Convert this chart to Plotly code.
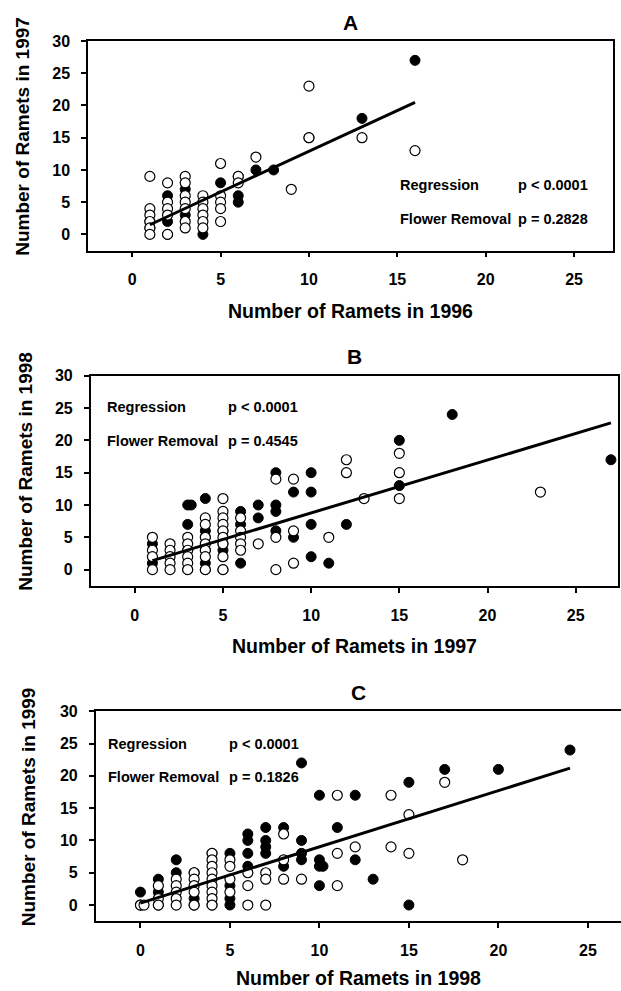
import plotly.graph_objects as go

# ---------------- data ----------------
# Panel A: ramets 1996 (x) vs 1997 (y)
a_filled_x = [1, 1, 2, 2, 2, 3, 3, 4, 5, 6, 6, 6, 7, 8, 10, 13, 16]
a_filled_y = [2, 1, 6, 2, 0, 7, 3, 0, 8, 9, 6, 5, 10, 10, 15, 18, 27]
a_open_x = [1, 1, 1, 1, 1, 1, 2, 2, 2, 2, 2, 3, 3, 3, 3, 3, 3, 3, 4, 4, 4, 4, 4, 4,
            5, 5, 5, 5, 5, 6, 6, 7, 9, 10, 10, 13, 16]
a_open_y = [9, 4, 3, 2, 1, 0, 8, 5, 4, 3, 0, 9, 8, 6, 5, 4, 2, 1, 6, 5, 4, 3, 2, 1,
            11, 6, 5, 4, 2, 9, 8, 12, 7, 23, 15, 15, 13]
a_fit_x = [1, 16]
a_fit_y = [1.5, 20.5]

# Panel B: ramets 1997 (x) vs 1998 (y)
b_filled_x = [1, 1, 3, 3.2, 3, 3, 3, 4, 4, 4, 4, 4, 4, 5, 5, 5, 5, 6, 6, 6, 7, 7,
              8, 8, 8, 8, 9, 9, 10, 10, 10, 10, 11, 12, 15, 15, 18, 27]
b_filled_y = [4, 1, 10, 10, 7, 3, 0, 11, 6, 5, 3, 1, 0, 6, 4, 3, 0, 9, 7, 1, 10, 8,
              15, 10, 9, 6, 12, 5, 15, 12, 7, 2, 1, 7, 20, 13, 24, 17]
b_open_x = [1, 1, 1, 1, 2, 2, 2, 2, 2, 3, 3, 3, 3, 3, 3, 4, 4, 4, 4, 4, 4, 4,
            5, 5, 5, 5, 5, 5, 5, 5, 5, 6, 6, 6, 6, 6, 7, 8, 8, 8, 9, 9, 9,
            11, 12, 12, 13, 15, 15, 15, 23]
b_open_y = [5, 3, 2, 0, 4, 3, 2, 1, 0, 5, 4, 3, 2, 1, 0, 8, 7, 5, 4, 3, 2, 0,
            11, 9, 8, 7, 6, 5, 4, 2, 0, 8, 6, 5, 4, 3, 4, 14, 5, 0, 14, 6, 1,
            5, 17, 15, 11, 18, 15, 11, 12]
b_fit_x = [1, 27]
b_fit_y = [1.4, 22.7]

# Panel C: ramets 1998 (x) vs 1999 (y)
c_filled_x = [0, 0, 1, 1, 1, 2, 2, 3, 3, 3, 4, 4, 5, 5, 5, 5, 6, 6, 6, 6, 7, 7, 7, 7,
              8, 8, 9, 9, 9, 9, 10, 10, 10, 10.2, 10, 11, 12, 12, 13, 15, 15, 17, 20, 24]
c_filled_y = [2, 0, 4, 2, 0, 7, 5, 5, 1, 0, 8, 0, 8, 3, 1, 0, 11, 10, 8, 6, 12, 10, 9, 8,
              12, 6, 22, 10, 8, 7, 17, 7, 6, 6, 3, 12, 17, 7, 4, 19, 0, 21, 21, 24]
c_open_x = [0, 0.2, 1, 1, 1, 2, 2, 2, 2, 2, 3, 3, 3, 3, 3, 4, 4, 4, 4, 4, 4, 4, 4, 4,
            5, 5, 5, 5, 6, 6, 6, 7, 7, 7, 8, 8, 8, 9, 11, 11, 11, 12, 14, 14, 15, 15, 17, 18]
c_open_y = [0, 0, 3, 1, 0, 4, 3, 2, 1, 0, 5, 4, 3, 2, 0, 8, 7, 6, 5, 4, 3, 2, 1, 0,
            7, 6, 4, 2, 5, 3, 0, 5, 4, 0, 11, 7, 4, 4, 17, 8, 3, 9, 17, 9, 14, 8, 19, 7]
c_fit_x = [0, 24]
c_fit_y = [0.3, 21.2]

panel_titles = ["A", "B", "C"]
x_titles = ["Number of Ramets in 1996", "Number of Ramets in 1997", "Number of Ramets in 1998"]
y_titles = ["Number of Ramets in 1997", "Number of Ramets in 1998", "Number of Ramets in 1999"]
reg_labels = ["p < 0.0001", "p < 0.0001", "p < 0.0001"]
fr_labels = ["p = 0.2828", "p = 0.4545", "p = 0.1826"]
x_ticks = [0, 5, 10, 15, 20, 25]
y_ticks = [0, 5, 10, 15, 20, 25, 30]

# ---------------- layout geometry ----------------
W, H = 621, 991
FONT = "Liberation Sans, Arial, sans-serif"

panels = [
    dict(filled=(a_filled_x, a_filled_y), open=(a_open_x, a_open_y), fit=(a_fit_x, a_fit_y),
         px=(88, 613), py=(33.3, 244.5), xr=[-2.5, 27.2], mirror_y=True,
         lab_x=15.05, p_x=21.7, rows=(7.74, 2.35), ytitle_x=23, xt_shift=-60.5),
    dict(filled=(b_filled_x, b_filled_y), open=(b_open_x, b_open_y), fit=(b_fit_x, b_fit_y),
         px=(90.7, 618), py=(370.7, 582.5), xr=[-2.5, 27.4], mirror_y=True,
         lab_x=-1.7, p_x=5.17, rows=(25.2, 19.9), ytitle_x=26, xt_shift=-60.5),
    dict(filled=(c_filled_x, c_filled_y), open=(c_open_x, c_open_y), fit=(c_fit_x, c_fit_y),
         px=(95.7, 621), py=(709, 920.6), xr=[-2.5, 26.85], mirror_y=False,
         lab_x=-1.93, p_x=4.82, rows=(24.9, 19.75), ytitle_x=28, xt_shift=-57),
]

fig = go.Figure()
annotations = []
for i, p in enumerate(panels):
    sfx = "" if i == 0 else str(i + 1)
    xa, ya = "x" + sfx, "y" + sfx
    # filled circles
    fig.add_trace(go.Scatter(x=p["filled"][0], y=p["filled"][1], mode="markers",
                             marker=dict(size=10, color="black", line=dict(color="black", width=1)),
                             xaxis=xa, yaxis=ya, showlegend=False, cliponaxis=True))
    # open circles
    fig.add_trace(go.Scatter(x=p["open"][0], y=p["open"][1], mode="markers",
                             marker=dict(size=10, color="white", line=dict(color="black", width=1.2)),
                             xaxis=xa, yaxis=ya, showlegend=False, cliponaxis=True))
    # regression line
    fig.add_trace(go.Scatter(x=p["fit"][0], y=p["fit"][1], mode="lines",
                             line=dict(color="black", width=3),
                             xaxis=xa, yaxis=ya, showlegend=False))

    xdom = [p["px"][0] / W, p["px"][1] / W]
    ydom = [1 - p["py"][1] / H, 1 - p["py"][0] / H]
    axis_common = dict(showgrid=False, zeroline=False, showline=True, linecolor="black",
                       linewidth=1.5, ticks="outside", ticklen=5, tickwidth=1.5,
                       tickcolor="black",
                       tickfont=dict(family=FONT, size=16, color="black", weight="bold"))
    fig.layout["xaxis" + sfx] = dict(domain=xdom, range=p["xr"], anchor=ya, mirror=True,
                                     tickvals=x_ticks, ticklabelstandoff=9, **axis_common)
    fig.layout["yaxis" + sfx] = dict(domain=ydom, range=[-2.5, 30], anchor=xa,
                                     mirror=p["mirror_y"], tickvals=y_ticks,
                                     ticklabelstandoff=8, **axis_common)

    txt_font = dict(family=FONT, size=14.5, color="black", weight="bold")
    for row_y, lab, pv in [(p["rows"][0], "Regression", reg_labels[i]),
                           (p["rows"][1], "Flower Removal", fr_labels[i])]:
        annotations.append(dict(x=p["lab_x"], y=row_y, xref=xa, yref=ya, text=lab,
                                showarrow=False, xanchor="left", yanchor="middle", font=txt_font))
        annotations.append(dict(x=p["p_x"], y=row_y, xref=xa, yref=ya, text=pv,
                                showarrow=False, xanchor="left", yanchor="middle", font=txt_font))
    # panel title
    annotations.append(dict(x=0.5, y=1, xref=xa + " domain", yref=ya + " domain",
                            text=panel_titles[i], showarrow=False, yshift=19,
                            xanchor="center", yanchor="middle",
                            font=dict(family=FONT, size=21, color="black", weight="bold")))
    # x title
    annotations.append(dict(x=0.5, y=0, xref=xa + " domain", yref=ya + " domain",
                            text=x_titles[i], showarrow=False, yshift=p["xt_shift"],
                            xanchor="center", yanchor="middle",
                            font=dict(family=FONT, size=19.5, color="black", weight="bold")))
    # y title
    annotations.append(dict(x=p["ytitle_x"] / W, y=0.5, xref="paper", yref=ya + " domain",
                            text=y_titles[i], showarrow=False, textangle=-90, yshift=9,
                            xanchor="center", yanchor="middle",
                            font=dict(family=FONT, size=19, color="black", weight="bold")))

fig.update_layout(width=W, height=H, margin=dict(l=0, r=0, t=0, b=0),
                  paper_bgcolor="white", plot_bgcolor="white",
                  annotations=annotations, showlegend=False)

fig.write_html("out.html")
